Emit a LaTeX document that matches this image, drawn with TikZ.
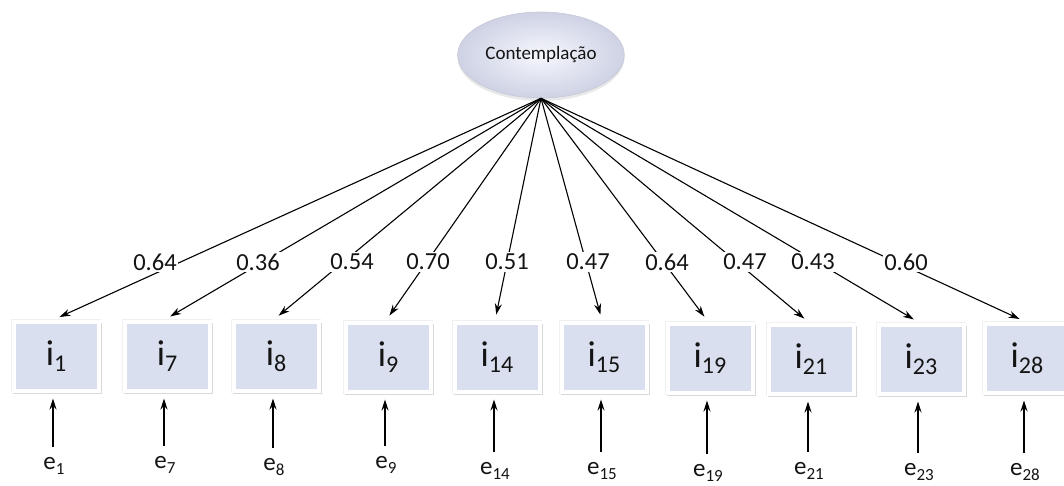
\documentclass[tikz,border=0pt]{standalone}
\usepackage{fontspec}
\setmainfont{Carlito}
\usetikzlibrary{shapes.geometric,shadows,arrows.meta}
\definecolor{boxblue}{RGB}{217,223,238}
\definecolor{txt}{RGB}{20,20,20}
\definecolor{elledge}{RGB}{196,200,216}
\definecolor{ellin}{RGB}{246,247,253}
\definecolor{ellout}{RGB}{206,210,228}
\newcommand\ilab[1]{{\fontsize{36}{36}\selectfont i\raisebox{-5.5pt}{\fontsize{24}{24}\selectfont #1}}}
\newcommand\elab[1]{{\fontsize{25}{25}\selectfont e\raisebox{-4.5pt}{\fontsize{17}{17}\selectfont #1}}}
\begin{document}
\begin{tikzpicture}[x=1pt,y=-1pt,
  box/.style={rectangle, fill=boxblue, draw=white, line width=4pt, minimum width=85pt, minimum height=69pt, inner sep=0pt, text=txt,
    drop shadow={shadow xshift=0pt, shadow yshift=0pt, shadow scale=1.065, opacity=.12, fill=gray},
    drop shadow={shadow xshift=1.5pt, shadow yshift=-2.5pt, shadow scale=1.04, opacity=.3, fill=gray}},
  ell/.style={ellipse, minimum width=166pt, minimum height=86pt, inner color=ellin, outer color=ellout, draw=elledge, line width=.6pt,
    drop shadow={shadow xshift=0pt, shadow yshift=-3pt, opacity=.18, fill=gray}, font=\fontsize{19}{19}\selectfont, text=txt},
  arr/.style={-{Stealth[length=11pt,width=7pt]}, line width=1.1pt, black},
  coef/.style={fill=white, inner sep=1.5pt, font=\fontsize{24.5}{24.5}\selectfont, text=txt},
  elabel/.style={inner sep=1pt, text=txt}]
\useasboundingbox (0,0) rectangle (1064,486);
\node[ell] (lat) at (541,55) {Contemplação};
\coordinate (apex) at (lat.south);
\foreach \n/\bx/\by/\s/\ey in {1/56/356/1/466, 2/167/356/7/465, 3/276/356/8/467, 4/388/357/9/465, 5/497/357/14/471, 6/604/357/15/471, 7/710/358/19/473, 8/811/359/21/471, 9/921/359/23/472, 10/1027/358/28/472}{
  \node[box] (b\n) at (\bx,\by) {\ilab{\s}};
  \node[elabel] (e\n) at (\bx-2,\ey) {\elab{\s}};
  \coordinate (f\n) at (\bx-3,\ey-19);
  \draw[arr, shorten >=6pt] (f\n) -- (f\n |- b\n.south);
  \draw[arr, shorten >=6pt] (apex) -- ([xshift=-2pt]b\n.north);
}
\foreach \n/\lx/\v in {1/155/0.64, 2/258/0.36, 3/352/0.54, 4/428/0.70, 5/507/0.51, 6/588/0.47, 7/667/0.64, 8/745/0.47, 9/813/0.43, 10/906/0.60}{
  \node[coef] (c\n) at (\lx,262) {\v};
}
\end{tikzpicture}
\end{document}
